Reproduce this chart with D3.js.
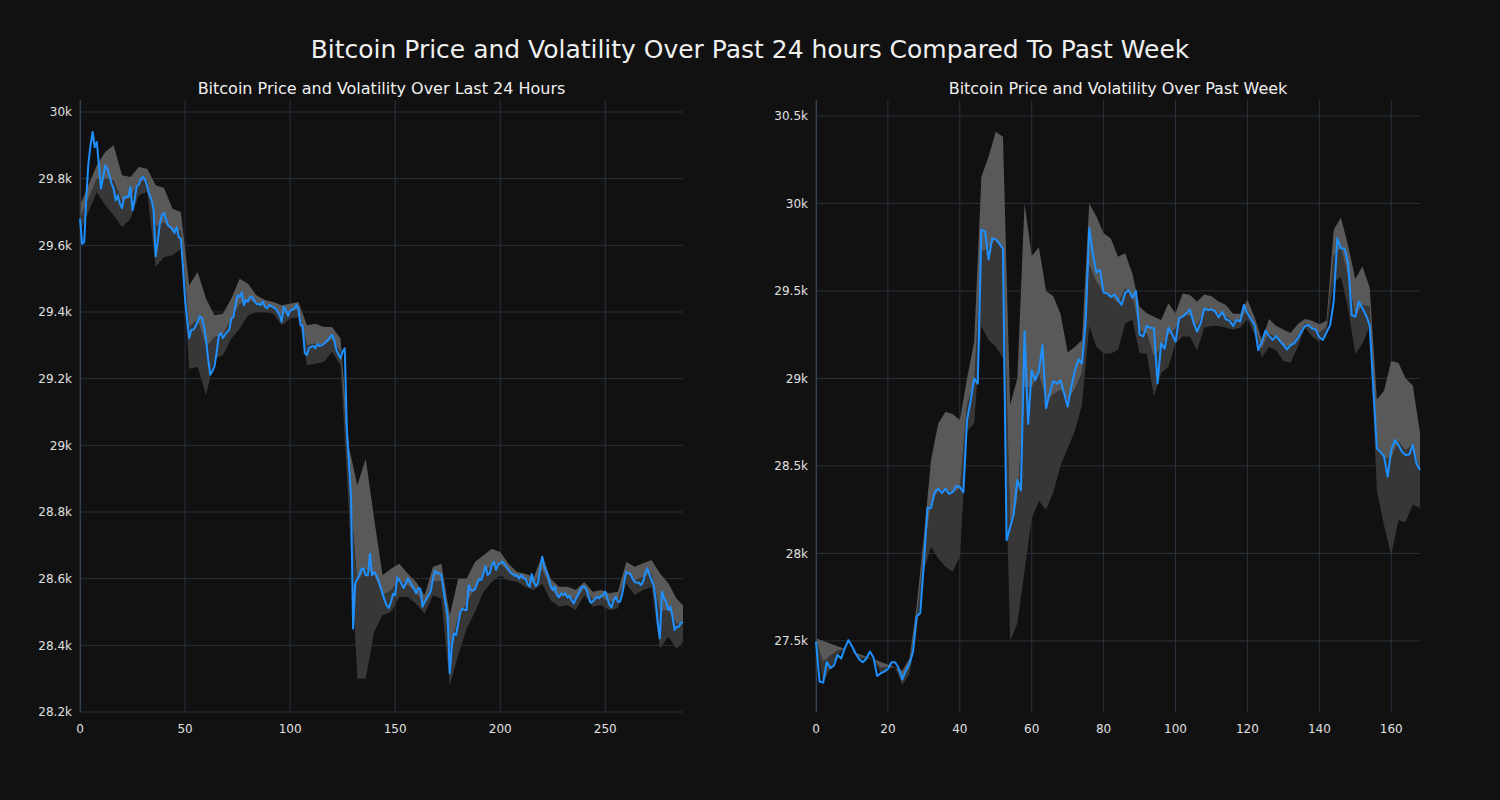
<!DOCTYPE html>
<html><head><meta charset="utf-8">
<script src="https://cdn.jsdelivr.net/npm/d3@7"></script>
<style>html,body{margin:0;padding:0;background:#111111;}svg{display:block;}</style>
</head><body><div id="chart"></div>
<script>
// ---------- DATA ----------
const mainTitle = "Bitcoin Price and Volatility Over Past 24 hours Compared To Past Week";
const title24 = "Bitcoin Price and Volatility Over Last 24 Hours";
const titleWeek = "Bitcoin Price and Volatility Over Past Week";

// 5-minute prices, last 24 hours (index 0..287)
const price24 = [
29680,29605,29610,29745,29845,29900,29940,29895,29910,29840,
29770,29805,29840,29830,29810,29785,29770,29735,29750,29725,
29712,29745,29745,29745,29775,29705,29737,29777,29782,29800,
29805,29797,29777,29752,29737,29707,29567,29612,29665,29692,
29697,29677,29659,29655,29649,29637,29654,29625,29620,29537,
29437,29377,29322,29347,29347,29357,29372,29387,29382,29357,
29317,29257,29212,29222,29237,29277,29327,29337,29322,29332,
29340,29345,29380,29385,29420,29450,29446,29458,29421,29436,
29431,29446,29446,29433,29424,29424,29421,29431,29416,29411,
29421,29418,29414,29411,29401,29391,29371,29416,29406,29388,
29404,29406,29411,29421,29406,29361,29358,29276,29271,29291,
29296,29298,29291,29304,29298,29300,29304,29309,29316,29326,
29331,29316,29286,29273,29261,29281,29291,29050,28950,28840,
28450,28585,28600,28610,28630,28630,28610,28610,28675,28610,
28620,28610,28595,28575,28555,28535,28520,28512,28530,28555,
28550,28604,28595,28585,28572,28585,28601,28591,28580,28570,
28556,28571,28570,28516,28530,28540,28550,28565,28600,28624,
28616,28616,28611,28566,28526,28486,28316,28400,28436,28431,
28466,28500,28510,28506,28506,28580,28566,28564,28568,28586,
28599,28596,28616,28638,28611,28616,28641,28651,28626,28643,
28646,28651,28644,28636,28626,28617,28614,28608,28611,28600,
28611,28601,28601,28584,28576,28614,28591,28578,28588,28630,
28666,28636,28620,28603,28578,28566,28576,28551,28544,28556,
28551,28556,28543,28549,28535,28526,28540,28551,28565,28576,
28576,28568,28548,28528,28531,28538,28546,28541,28548,28551,
28561,28541,28521,28514,28536,28546,28531,28531,28551,28590,
28621,28616,28614,28600,28590,28588,28588,28581,28591,28616,
28631,28613,28596,28581,28536,28466,28421,28561,28541,28531,
28506,28516,28486,28446,28456,28456,28466,28471];

// volatility band (rolling upper / lower), sampled positions
const band24X = [0,4,8,12,16,20,24,28,32,36,40,44,48,52,56,60,64,68,72,76,80,84,88,92,96,100,104,108,112,116,120,124,128,132,136,140,144,148,152,156,160,164,168,172,176,180,184,188,192,196,200,204,208,212,216,220,224,228,232,236,240,244,248,252,256,260,264,268,272,276,280,284,287];
const band24Hi = [29720,29780,29840,29880,29900,29810,29805,29835,29830,29780,29772,29710,29700,29480,29520,29440,29390,29395,29440,29500,29485,29450,29436,29430,29420,29425,29430,29360,29365,29355,29355,29320,28995,28880,28960,28780,28610,28630,28645,28615,28590,28550,28636,28645,28490,28600,28600,28650,28670,28690,28680,28645,28620,28615,28605,28670,28600,28576,28576,28566,28590,28561,28566,28556,28561,28650,28636,28646,28656,28616,28586,28540,28520];
const band24Lo = [29640,29700,29760,29720,29690,29655,29680,29750,29760,29535,29565,29570,29590,29230,29235,29150,29260,29270,29320,29350,29390,29400,29400,29395,29360,29380,29385,29240,29245,29250,29280,29240,28800,28300,28300,28440,28490,28500,28545,28545,28525,28495,28550,28540,28280,28370,28450,28500,28560,28590,28610,28595,28590,28575,28565,28585,28535,28516,28520,28506,28550,28516,28521,28506,28511,28585,28551,28566,28575,28390,28426,28390,28410];

// hourly prices, past week (index 0..168)
const priceWeek = [
27496,27268,27262,27380,27345,27360,27420,27400,27458,27505,
27470,27430,27395,27378,27400,27440,27405,27300,27315,27325,
27340,27378,27378,27345,27280,27330,27370,27440,27640,27660,
27940,28260,28260,28350,28370,28345,28370,28340,28350,28385,
28380,28350,28760,28870,29000,28970,29850,29840,29680,29800,
29795,29770,29740,28076,28150,28225,28420,28360,29270,28740,
29045,28990,29045,29190,28830,28915,28985,28970,28990,28915,
28839,28950,29045,29110,29085,29320,29860,29710,29605,29620,
29490,29486,29465,29480,29450,29420,29490,29505,29460,29500,
29250,29240,29300,29290,29286,28972,29200,29170,29290,29255,
29210,29345,29353,29372,29395,29320,29267,29315,29400,29390,
29395,29383,29349,29380,29338,29330,29300,29335,29325,29420,
29372,29338,29305,29162,29210,29273,29243,29220,29242,29215,
29191,29166,29190,29200,29230,29267,29300,29305,29285,29280,
29235,29220,29262,29305,29439,29801,29743,29743,29660,29362,
29353,29439,29401,29360,29305,28950,28600,28581,28553,28439,
28591,28648,28620,28581,28562,28565,28620,28515,28477];

const bandWeekX = d3.range(0, 169, 2);
const bandWeekHi = [27515,27500,27485,27470,27455,27440,27425,27410,27395,27380,27365,27350,27330,27400,27700,28100,28534,28743,28810,28797,28762,29000,29210,30153,30267,30410,30381,28850,29000,30000,29700,29750,29500,29470,29370,29150,29180,29220,30000,29925,29829,29800,29696,29715,29600,29410,29372,29353,29334,29429,29372,29486,29477,29440,29480,29470,29440,29420,29370,29370,29450,29350,29220,29340,29300,29280,29260,29310,29340,29330,29310,29330,29850,29920,29760,29570,29640,29520,28880,28930,29100,29090,29000,28960,28690];
const bandWeekLo = [27496,27262,27345,27420,27455,27440,27395,27400,27395,27315,27340,27350,27250,27310,27560,27900,28038,27972,27924,27895,27981,28700,28743,29300,29219,29181,29115,27500,27600,27900,28200,28300,28250,28350,28500,28600,28700,28850,29300,29181,29143,29143,29162,29315,29334,29143,29143,28896,29029,29067,29200,29239,29239,29160,29290,29300,29300,29290,29280,29290,29340,29250,29120,29180,29160,29100,29090,29180,29290,29240,29210,29260,29550,29580,29400,29140,29200,29300,28360,28160,27990,28190,28180,28280,28260];

// axis ticks
const xTicks24 = [0,50,100,150,200,250];
const yTicks24 = [28200,28400,28600,28800,29000,29200,29400,29600,29800,30000];
const yLabels24 = ["28.2k","28.4k","28.6k","28.8k","29k","29.2k","29.4k","29.6k","29.8k","30k"];
const xTicksWeek = [0,20,40,60,80,100,120,140,160];
const yTicksWeek = [27500,28000,28500,29000,29500,30000,30500];
const yLabelsWeek = ["27.5k","28k","28.5k","29k","29.5k","30k","30.5k"];

// ---------- DRAW ----------
const W = 1500, H = 800;
const FONT = "DejaVu Sans, Liberation Sans, sans-serif";
const svg = d3.select("#chart").append("svg").attr("width", W).attr("height", H);
svg.append("rect").attr("width", W).attr("height", H).attr("fill", "#111111");

function fitText(sel, target, start) {
  let fs = start;
  sel.attr("font-size", fs);
  const w = sel.node().getComputedTextLength();
  if (w > 0) { fs = fs * target / w; sel.attr("font-size", fs); }
}

const t0 = svg.append("text").attr("x", 750).attr("y", 58).attr("text-anchor", "middle")
  .attr("fill", "#f0f0f0").attr("font-family", FONT).text(mainTitle);
fitText(t0, 879, 23);

function panel(cfg) {
  const x = d3.scaleLinear().domain(cfg.xDomain).range(cfg.xRange);
  const y = d3.scaleLinear().domain(cfg.yDomain).range(cfg.yRange);
  const g = svg.append("g");
  const [x0, x1] = cfg.xRange, [yb, yt] = cfg.yRange;

  // grid
  g.append("g").selectAll("line.h").data(cfg.yTicks).join("line")
    .attr("x1", x0).attr("x2", x1).attr("y1", d => y(d)).attr("y2", d => y(d))
    .attr("stroke", "#29323e").attr("stroke-width", 1);
  g.append("g").selectAll("line.v").data(cfg.xTicks).join("line")
    .attr("x1", d => x(d)).attr("x2", d => x(d)).attr("y1", yt).attr("y2", yb)
    .attr("stroke", "#29323e").attr("stroke-width", 1);

  // band
  const bx = cfg.bandX, hi = cfg.bandHi, lo = cfg.bandLo;
  const bd = bx.map((v, i) => ({x: v, hi: hi[i], lo: lo[i], mid: (hi[i] + lo[i]) / 2}));
  g.append("path").datum(bd).attr("fill", "#373737")
    .attr("d", d3.area().x(d => x(d.x)).y0(d => y(d.lo)).y1(d => y(d.mid)));
  g.append("path").datum(bd).attr("fill", "#595959")
    .attr("d", d3.area().x(d => x(d.x)).y0(d => y(d.mid)).y1(d => y(d.hi)));

  // left spine
  g.append("line").attr("x1", x0 + 0.5).attr("x2", x0 + 0.5).attr("y1", yt).attr("y2", yb)
    .attr("stroke", "#34404d").attr("stroke-width", 1.2);

  // price line
  g.append("path").datum(cfg.price).attr("fill", "none").attr("stroke", "#1e90ff")
    .attr("stroke-width", 2).attr("stroke-linejoin", "round")
    .attr("d", d3.line().x((d, i) => x(i)).y(d => y(d)));

  // tick labels
  g.append("g").selectAll("text").data(cfg.yTicks).join("text")
    .attr("x", x0 - 8).attr("y", d => y(d)).attr("dy", "0.35em").attr("text-anchor", "end")
    .attr("fill", "#e0e0e0").attr("font-family", FONT).attr("font-size", 12)
    .text((d, i) => cfg.yLabels[i]);
  g.append("g").selectAll("text").data(cfg.xTicks).join("text")
    .attr("x", d => x(d)).attr("y", yb + 17).attr("dy", "0.35em").attr("text-anchor", "middle")
    .attr("fill", "#e0e0e0").attr("font-family", FONT).attr("font-size", 12)
    .text(d => d);

  const st = g.append("text").attr("x", (x0 + x1) / 2).attr("y", 94).attr("text-anchor", "middle")
    .attr("fill", "#f0f0f0").attr("font-family", FONT).text(cfg.title);
  fitText(st, cfg.titleW, 15);
}

panel({xDomain: [0, 287], xRange: [80, 683], yDomain: [28200, 30036], yRange: [712, 100],
  xTicks: xTicks24, yTicks: yTicks24, yLabels: yLabels24, price: price24,
  bandX: band24X, bandHi: band24Hi, bandLo: band24Lo, title: title24, titleW: 368});
panel({xDomain: [0, 168], xRange: [816, 1420], yDomain: [27094, 30591], yRange: [712, 100],
  xTicks: xTicksWeek, yTicks: yTicksWeek, yLabels: yLabelsWeek, price: priceWeek,
  bandX: bandWeekX, bandHi: bandWeekHi, bandLo: bandWeekLo, title: titleWeek, titleW: 339});
</script></body></html>
